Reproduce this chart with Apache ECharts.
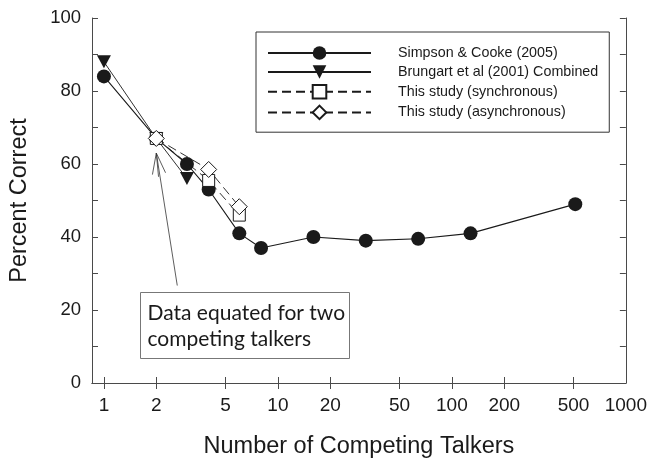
<!DOCTYPE html>
<html>
<head>
<meta charset="utf-8">
<script src="https://cdn.jsdelivr.net/npm/echarts@6/dist/echarts.min.js"></script>
<style>
html,body{margin:0;padding:0;background:#fff;}
#chart{width:650px;height:464px;}
</style>
</head>
<body>
<div id="chart"></div>
<script>
// ---- data ----
const seriesNames = [
  'Simpson & Cooke (2005)',
  'Brungart et al (2001) Combined',
  'This study (synchronous)',
  'This study (asynchronous)'
];
const simpsonX = [1, 2, 3, 4, 6, 8, 16, 32, 64, 128, 512];
const simpsonY = [84, 67, 60, 53, 41, 37, 40, 39, 39.5, 41, 49];
const brungartX = [1, 2, 3];
const brungartY = [88, 67, 56];
const syncX = [2, 4, 6];
const syncY = [67, 55.5, 46];
const asyncX = [2, 4, 6];
const asyncY = [67, 58.5, 48.3];
const xTickValues = [1, 2, 5, 10, 20, 50, 100, 200, 500];
const xLabelValues = [1, 2, 5, 10, 20, 50, 100, 200, 500, 1000];

const pair = (xs, ys) => xs.map((x, i) => [x, ys[i]]);
const ink = '#1a1a1a';
const axisCol = '#4a4a4a';
const FONT = '"Liberation Sans", Arial, sans-serif';

const chart = echarts.init(document.getElementById('chart'));

const xBase = {
  type: 'log', logBase: 10, min: 0.854, max: 1000,
  axisLine: {show: true, lineStyle: {color: axisCol, width: 1}},
  splitLine: {show: false}
};
const yBase = {
  type: 'value', min: 0, max: 100, interval: 10,
  axisLine: {show: true, lineStyle: {color: axisCol, width: 1}},
  splitLine: {show: false},
  axisTick: {show: true, inside: true, length: 6, lineStyle: {color: axisCol}}
};

const option = {
  animation: false,
  backgroundColor: '#fff',
  grid: {left: 91, right: 24, top: 18, bottom: 72, containLabel: false},
  xAxis: [
    Object.assign({}, xBase, {
      position: 'bottom',
      name: 'Number of Competing Talkers',
      nameLocation: 'middle', nameGap: 52,
      nameTextStyle: {fontFamily: FONT, fontSize: 23.5, color: ink},
      axisTick: {show: true, inside: true, length: 6, customValues: xTickValues, lineStyle: {color: axisCol}},
      axisLabel: {show: true, customValues: xLabelValues, margin: 13, fontFamily: FONT, fontSize: 19, color: ink,
        formatter: v => String(Math.round(v))}
    }),
    Object.assign({}, xBase, {
      position: 'top',
      axisTick: {show: true, inside: true, length: 6, customValues: xTickValues, lineStyle: {color: axisCol}},
      axisLabel: {show: false}
    })
  ],
  yAxis: [
    Object.assign({}, yBase, {
      position: 'left',
      name: 'Percent Correct',
      nameLocation: 'middle', nameGap: 60, nameRotate: 90,
      nameTextStyle: {fontFamily: FONT, fontSize: 23.5, color: ink},
      axisLabel: {margin: 11, fontFamily: FONT, fontSize: 18.5, color: ink,
        formatter: v => (v % 20 === 0 ? String(v) : '')}
    }),
    Object.assign({}, yBase, {
      position: 'right',
      axisLabel: {show: false}
    })
  ],
  legend: {
    show: true,
    orient: 'vertical',
    left: 256, top: 32,
    padding: [14, 11, 12, 11],
    itemGap: 5,
    itemWidth: 103, itemHeight: 17,
    borderColor: '#333', borderWidth: 1,
    backgroundColor: '#fff',
    textStyle: {fontFamily: FONT, fontSize: 14.3, color: ink, padding: [0, 0, 0, 22]},
    data: seriesNames
  },
  series: [
    {
      name: seriesNames[0], type: 'line', data: pair(simpsonX, simpsonY),
      symbol: 'circle', symbolSize: 14,
      lineStyle: {color: ink, width: 1.1},
      itemStyle: {color: ink},
      z: 2,
      markLine: {
        silent: true, symbol: ['none', 'none'],
        label: {show: false},
        lineStyle: {color: '#333', width: 0.8, type: 'solid'},
        data: [
          [{coord: [2.64, 26.7]}, {coord: [2, 63]}],
          [{coord: [2, 63]}, {coord: [1.9, 57.1]}],
          [{coord: [2, 63]}, {coord: [2.26, 57.6]}],
          [{coord: [2, 63]}, {coord: [2.06, 56.5]}]
        ]
      }
    },
    {
      name: seriesNames[1], type: 'line', data: pair(brungartX, brungartY),
      symbol: 'triangle', symbolRotate: 180, symbolSize: [14, 13],
      lineStyle: {color: ink, width: 0.9},
      itemStyle: {color: ink},
      z: 3
    },
    {
      name: seriesNames[2], type: 'line', data: pair(syncX, syncY),
      symbol: 'rect', symbolSize: 12,
      lineStyle: {color: ink, width: 0.9, type: [9, 5]},
      itemStyle: {color: '#fff', borderColor: ink, borderWidth: 1},
      z: 4
    },
    {
      name: seriesNames[3], type: 'line', data: pair(asyncX, asyncY),
      symbol: 'diamond', symbolSize: 16,
      lineStyle: {color: ink, width: 0.9, type: [9, 5]},
      itemStyle: {color: '#fff', borderColor: ink, borderWidth: 1},
      z: 5
    }
  ],
  graphic: [
    {
      type: 'group', left: 140, top: 292,
      children: [
        {type: 'rect', shape: {x: 0, y: 0, width: 209, height: 66},
          style: {fill: '#fff', stroke: '#777', lineWidth: 1}},
        {type: 'text', x: 7, y: 7,
          style: {text: 'Data equated for two\ncompeting talkers', font: '21px Lato', fill: ink, lineHeight: 26.7}}
      ]
    }
  ]
};
chart.setOption(option);
</script>
</body>
</html>
